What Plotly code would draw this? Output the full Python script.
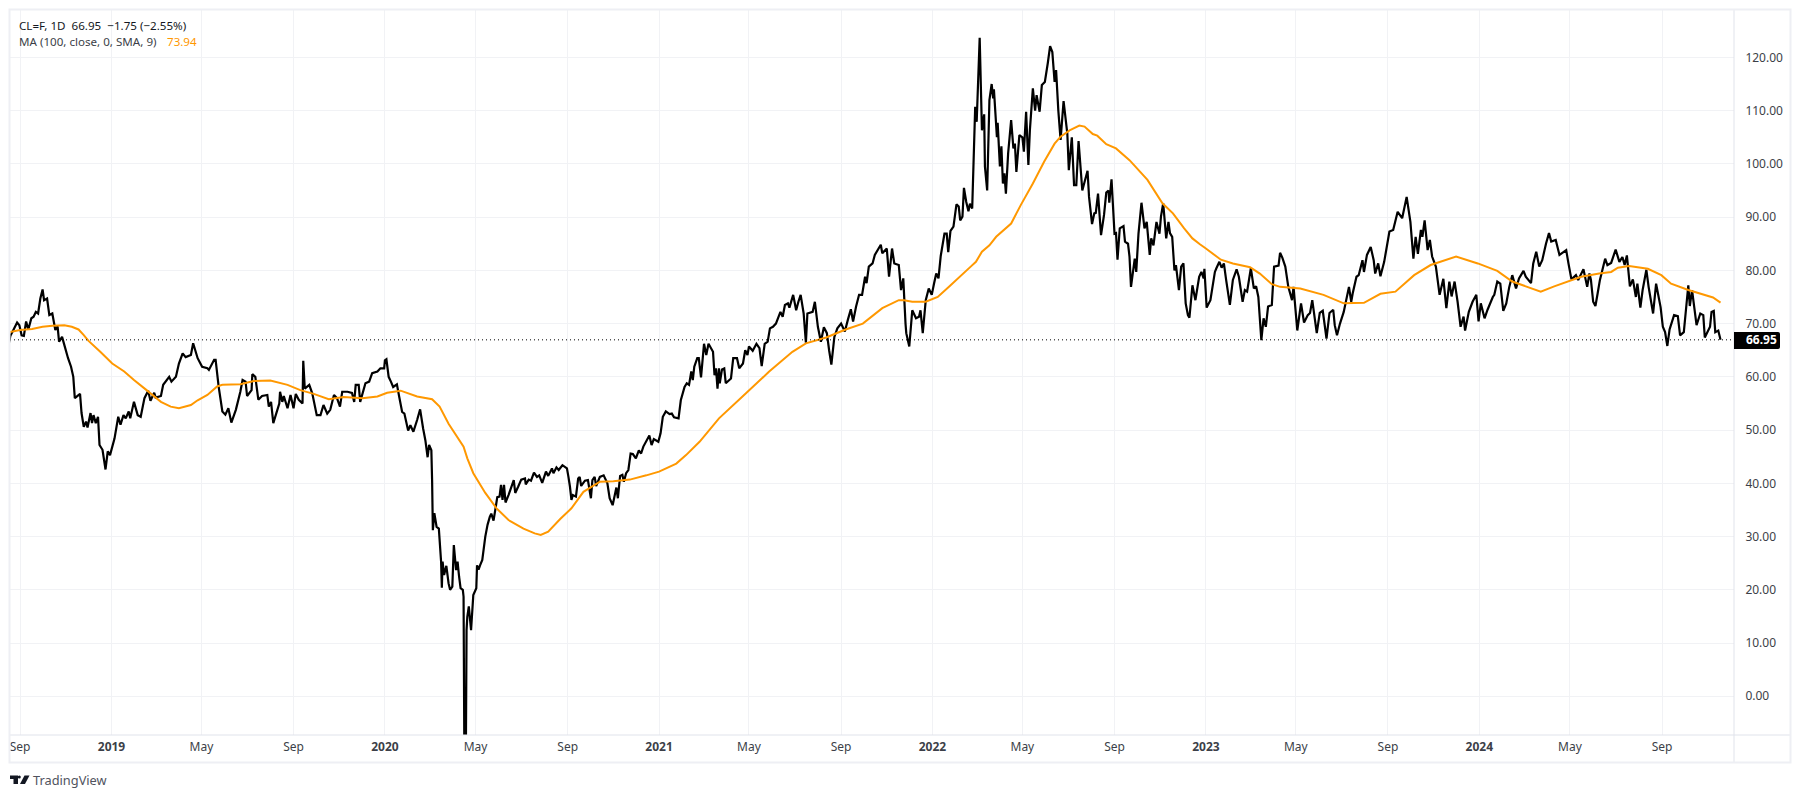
import pandas as pd
import plotly.graph_objects as go

# Closing prices: day-of-year offsets and values, per year
close_days_2018 = [228,230,234,239,242,245,248,251,254,258,261,264,267,270,273,275,279,282,286,290,293,295,299,302,307,311,314,316,323,325,328,331,333,337,339,341,344,347,349,353,357,360,363]
close_vals_2018 = [66.3,67.7,68.8,70.2,69.7,67.8,67.7,70.4,68.9,71,71.3,72.2,71.9,74.7,76.4,74.4,74.7,71.6,71.9,68.8,69.5,66.6,67.5,66,63.5,61.9,60,56,56.8,53.2,50.6,51.6,50.5,53.2,51.3,52.8,51.3,52.5,47.2,46.3,42.6,46,45.3]
close_days_2019 = [4,9,12,16,19,23,25,30,35,39,44,49,52,57,59,66,69,77,80,86,90,95,99,106,109,115,121,128,130,137,139,143,148,152,156,160,166,172,175,179,181,187,188,192,196,201,208,210,213,216,224,225,228,230,235,239,243,246,250,255,256,258,264,268,274,279,283,288,292,297,301,305,308,315,321,324,326,330,332,339,344,348,355,359,364]
close_vals_2019 = [48.4,52.5,51,52.8,52.2,53.5,52.2,55.3,52.8,52.5,56,57.4,55.5,57,56.1,56.4,58.5,60,59.1,60,62.5,64.4,63.7,64.1,66.3,63.5,61.9,61.6,61.3,63.2,63.2,58.2,53.5,52.9,54.1,51.4,53.8,57.2,59.4,59.1,56.4,57.5,60.5,60,55.7,56.4,56.6,54.4,55.3,51.3,55,57.2,55.3,56.4,54.1,56.6,54.1,56.8,55.7,55,63,57.8,58.5,56.9,52.8,52.8,54.7,53.1,53.8,56.6,56,54.4,57.2,57.2,57,55.3,58.5,58.5,55.3,58.8,59.1,60.7,61,61.6,61.6]
close_days_2020 = [0,2,5,8,11,16,19,23,26,31,34,38,43,47,51,54,57,59,62,63,64,66,69,72,75,76,77,79,82,85,87,90,92,95,97,99,101,104,105,107,109,110,112,115,118,122,123,125,127,130,134,137,140,142,145,148,150,153,155,157,159,161,165,172,174,178,182,187,188,192,195,199,203,206,210,215,218,223,225,229,232,237,243,245,247,249,251,255,258,260,262,267,271,275,277,280,282,287,292,297,300,304,309,311,314,317,319,322,325,328,331,335,339,342,345,353,356,359,365]
close_vals_2020 = [63.1,63.3,60,59.1,58.1,58.6,56.3,53.4,53.1,49.9,50.9,49.7,51.9,53.9,50.3,48.1,44.9,47.2,46.2,40.6,31.2,34.4,31.8,31.5,25.3,20.4,25.3,22.8,24.5,21.2,20,20.6,28.4,23.7,25.3,22.5,20.3,20,18.7,-37.63,12.4,14.9,16.9,12.4,19,20.3,24.6,23.8,24.6,25.6,30,32.2,33.7,34.3,33,35.6,37.4,37.5,39.7,36.9,39.7,36.4,37.8,40.6,38.2,39.4,40.7,40.9,39.8,40.7,40.5,42,41.2,41.5,40.1,42.2,41.4,42.8,41.9,43,42.5,43.4,42.8,41.2,39.4,36.9,37.8,37.5,40.9,41.2,39.5,40.5,40.6,37.2,40.6,41.2,39.5,41.2,41.5,40,37.2,35.9,39.2,37.2,41.4,41.6,40.3,41.9,42.5,45.6,45.5,44.7,46.2,45.6,46.9,49,47.2,48.3,47.8]
close_days_2021 = [2,5,9,14,17,20,26,29,34,37,40,43,45,47,51,53,56,60,63,66,72,74,76,78,80,81,84,87,89,96,99,104,107,112,115,118,120,125,130,134,137,141,145,148,152,156,162,165,168,172,174,179,183,186,189,193,196,198,205,208,212,216,220,224,227,230,234,238,243,248,252,256,259,263,267,271,275,277,280,285,288,296,298,304,307,311,314,320,323,326,329,330,334,338,343,347,349,352,356,360,364]
close_vals_2021 = [49.4,52.5,53.5,53,53.1,52.4,52.2,55.6,58.1,58.8,58.5,61,59.4,61.9,63.5,63.5,59.9,66.2,64.1,66.2,64.7,60.3,61.6,57.8,61.6,58.8,61.4,61.6,58.8,59.7,63.5,63.5,61.6,62.5,65,64.1,65.7,64.9,66.2,65.4,62,66.2,66.6,69.1,69.4,70,72.2,71.3,73.5,73.8,73,75.4,72.5,74.1,75.4,71.9,66.4,71.9,72.2,74.1,69.4,66.6,69.3,68.2,65,62.3,67.5,69.1,70,68.5,70.7,72.7,70.4,73.2,75.4,75.4,78.8,77.6,80.7,81.3,82.9,84.8,83.2,84.1,78.8,84.1,81.3,81,76.3,78.5,70,68.2,65.7,72.5,71,71.3,72.5,68.2,74.4,76.6,75.4]
close_days_2022 = [2,5,8,11,16,19,21,24,28,32,35,37,40,42,45,48,50,53,57,59,63,66,69,70,73,76,79,81,82,86,87,90,92,94,96,98,101,105,108,110,112,116,120,122,125,128,130,134,137,139,143,146,150,154,157,160,163,165,168,171,175,180,182,186,189,192,195,200,203,207,209,213,216,218,221,225,229,232,235,236,239,243,245,247,250,255,257,261,263,265,270,272,275,279,283,286,290,292,295,299,303,305,308,312,315,317,320,323,325,329,332,335,338,341,343,347,351,356,359,362,363]
close_vals_2022 = [77.5,79.4,78.5,82.7,86.9,86.9,83.4,87.4,88.2,92.4,92,89.4,90.1,95.5,92.9,91.1,92.5,91.6,110.7,107.9,123.7,106.3,109.3,99.5,95,112,115,112.3,114,105,107.7,99.5,103.3,96.3,98.2,94.4,102,108.2,102.9,103.8,98.5,105.4,105,102.3,109.8,99.8,106.3,114.2,110,112.9,109.8,114.8,115.4,119,122.1,121,115.4,117.6,110,104.5,111.8,105.7,98.8,105,96,96,104.3,95,96.6,98.7,93.8,88.7,90.7,90.8,94.4,86.6,90.4,94.6,95,92.7,97.1,86.9,87,82,87.9,88.3,85.4,85,82.6,76.9,82.2,79.7,86.9,92.7,87.9,89.1,82.9,86,84.7,89.1,86.9,90.1,92.6,86,89.1,87,86.3,80,81,76.3,80.7,81.3,73.8,71.6,71.1,77.2,74.4,78.8,79.7,78.5,80.3]
close_days_2023 = [1,6,12,14,18,21,24,27,32,36,41,44,49,52,55,60,64,67,70,74,77,80,83,88,91,97,99,102,106,110,115,117,122,127,131,136,139,142,148,152,156,161,165,170,172,175,179,184,191,194,196,201,204,209,211,215,220,224,226,230,233,238,245,250,256,262,268,273,277,280,283,287,289,292,296,299,302,307,312,317,321,325,328,332,336,340,344,346,351,356,361,364]
close_vals_2023 = [73,74.4,79.7,80.4,81.6,80.5,81.3,78.2,73.5,78.2,80.2,78.8,74.1,76.3,76,80.4,76.6,77,75,66.9,71,69.4,73.2,73.5,80.7,80.9,83.3,82.4,80.7,76.9,74.4,76.9,68.7,73.8,70.2,71.6,72,74.4,68.2,72,72.4,67.2,72,72.6,69.7,67.8,70,72.2,76.9,74.1,75.7,78.8,79.1,81.9,79.7,82.9,84.4,81.9,79.4,81.3,78.9,81.6,87.3,87.6,91,89.8,93.8,89.1,82.2,86.3,83.1,87.6,86.3,89.4,83.8,85.7,82.6,80.7,75.4,78.4,72.9,77.9,75.1,77.9,74.1,69.4,71.3,68.7,72.2,74.1,75.4,70.4]
close_days_2024 = [2,7,11,18,20,24,28,32,36,40,44,49,53,59,62,69,72,76,80,84,89,93,96,102,107,116,119,123,129,132,139,144,147,149,152,155,158,161,168,171,176,182,187,191,194,197,201,205,209,211,215,218,223,226,232,236,242,245,248,251,254,260,265,268,273,279,281,284,290,295,299,301,308,310,313,315,319,322]
close_vals_2024 = [73.8,71,72.6,75,75.4,77.9,77.5,72.4,73.8,76.9,79.1,76.6,78.5,79.9,78.8,77.6,81.3,83.5,80.7,81.9,85,87,85.4,85.7,82.9,83.8,81.3,78.3,79.1,78.2,80.2,76.9,79.4,78.2,74.1,73.3,75.7,78.2,82.2,81,81.4,83.9,81.6,82.5,81,82.8,77,78.3,75,77.5,73,76.3,80.1,76.9,71.9,77.5,73.1,69.4,68.4,65.8,68.9,71.6,71.4,67.8,68.4,77.2,73.3,76.3,69.7,71.9,71.6,67.4,69.4,72.2,72.4,68.4,68.7,66.95]

# 100-day simple moving average, per year
ma_days_2018 = [228,243,259,273,286,302,312,321,328,334,350]
ma_vals_2018 = [68.4,68.8,69,69.4,69.6,69.7,69.4,68.9,67.85,66.8,64.7]
ma_days_2019 = [1,17,30,46,66,79,90,106,115,128,141,148,172,190,212,235,252,270,290,310,335,355]
ma_vals_2019 = [62.5,61,59.4,57.6,55.3,54.4,54.1,54.7,55.6,56.6,58.2,58.5,58.6,59.2,59.3,58.5,57.5,56.8,55.8,56.2,56,56.3]
ma_days_2020 = [3,21,43,63,73,85,105,110,118,134,149,165,185,200,208,218,234,249,265,287,305,327,349]
ma_vals_2020 = [57,57.4,56.3,55.8,54.4,51.2,46.9,44.7,41.9,38.2,35.3,33.1,31.5,30.6,30.3,30.9,33.3,35.3,38.4,40.3,40.4,40.7,41.5]
ma_days_2021 = [0,23,36,54,80,116,147,178,196,223,249,272,298,320,327,338,356]
ma_vals_2021 = [42.2,43.7,45.3,47.8,52.2,56.9,61,64.7,66.3,67.4,68.9,70,72.9,74.4,74.4,74.1,74.1]
ma_days_2022 = [7,22,51,58,66,76,85,105,118,134,149,163,171,183,196,203,214,220,232,245,263,287,307,321,336,347,357]
ma_vals_2022 = [75,76.9,80.7,81.6,83.5,84.7,86.3,88.8,92.3,96.3,100.4,103.8,105.1,106.3,107.2,107,105.6,105.3,103.7,102.9,100.7,97,92.6,90.7,87.9,86,84.9]
ma_days_2023 = [0,20,36,59,72,88,99,126,157,184,211,233,253,278,300,334,363]
ma_vals_2023 = [84.1,82,81.3,80.6,79.4,77.4,76.9,76.6,75.4,73.8,73.9,75.6,76,79.1,81,82.6,81.3]
ma_days_2024 = [24,44,82,100,136,160,176,185,200,225,243,256,279,312,322]
ma_vals_2024 = [79.9,77.9,76,77,78.8,79.4,79.7,80.5,80.8,80.3,79.1,77.5,76.3,74.9,73.94]

price_ticks = [0,10,20,30,40,50,60,70,80,90,100,110,120]
time_ticks = ["2018-09-01","2019-01-01","2019-05-01","2019-09-01","2020-01-01","2020-05-01","2020-09-01","2021-01-01","2021-05-01","2021-09-01","2022-01-01","2022-05-01","2022-09-01","2023-01-01","2023-05-01","2023-09-01","2024-01-01","2024-05-01","2024-09-01"]
time_labels = ["Sep","2019","May","Sep","2020","May","Sep","2021","May","Sep","2022","May","Sep","2023","May","Sep","2024","May","Sep"]
last_close = 66.95
symbol_text = "CL=F, 1D  66.95  −1.75 (−2.55%)"
ma_text = "MA (100, close, 0, SMA, 9)"
ma_last = "73.94"


def to_dates(year, days):
    return [pd.Timestamp(year, 1, 1) + pd.Timedelta(days=d) for d in days]


close_x, close_y, ma_x, ma_y = [], [], [], []
for yr, d, v in [(2018, close_days_2018, close_vals_2018), (2019, close_days_2019, close_vals_2019),
                 (2020, close_days_2020, close_vals_2020), (2021, close_days_2021, close_vals_2021),
                 (2022, close_days_2022, close_vals_2022), (2023, close_days_2023, close_vals_2023),
                 (2024, close_days_2024, close_vals_2024)]:
    close_x += to_dates(yr, d)
    close_y += v
for yr, d, v in [(2018, ma_days_2018, ma_vals_2018), (2019, ma_days_2019, ma_vals_2019),
                 (2020, ma_days_2020, ma_vals_2020), (2021, ma_days_2021, ma_vals_2021),
                 (2022, ma_days_2022, ma_vals_2022), (2023, ma_days_2023, ma_vals_2023),
                 (2024, ma_days_2024, ma_vals_2024)]:
    ma_x += to_dates(yr, d)
    ma_y += v

W, H = 1800, 798
L, R, T, B = 10, 1734, 10, 735
FONT = "Noto Sans"
GRID = "#f1f2f5"
FRAME = "#eeeff4"
AXIS = "#e0e3eb"
TEXT = "#131722"


def px(x):
    return (x - L) / (R - L)


def py(y):
    return (B - y) / (B - T)


fig = go.Figure()
fig.add_trace(go.Scatter(x=close_x, y=close_y, mode="lines", line=dict(color="#000000", width=2.2, simplify=False), hoverinfo="skip", showlegend=False))
fig.add_trace(go.Scatter(x=ma_x, y=ma_y, mode="lines", line=dict(color="#ff9800", width=2, simplify=False), hoverinfo="skip", showlegend=False))

shapes = [
    dict(type="line", xref="paper", yref="y", x0=0, x1=1, y0=last_close, y1=last_close, line=dict(color="#000000", width=1, dash="1px,3px"), layer="above"),
    dict(type="line", xref="paper", yref="paper", x0=px(R), x1=px(R), y0=py(T), y1=py(762), line=dict(color=AXIS, width=1)),
    dict(type="line", xref="paper", yref="paper", x0=px(L), x1=px(1790), y0=py(B), y1=py(B), line=dict(color=AXIS, width=1)),
    dict(type="rect", xref="paper", yref="paper", x0=px(9.5), x1=px(1790.5), y0=py(9.5), y1=py(762.5), line=dict(color=FRAME, width=2)),
    dict(type="path", xref="paper", yref="paper", fillcolor="#000000", line=dict(width=0), layer="above",
         path=f"M{px(R)},{py(332)} L{px(1778)},{py(332)} Q{px(1780)},{py(332)} {px(1780)},{py(334)} L{px(1780)},{py(347)} Q{px(1780)},{py(349)} {px(1778)},{py(349)} L{px(R)},{py(349)} Z"),
    # TradingView mark
    dict(type="path", xref="paper", yref="paper", fillcolor="#131722", line=dict(width=0),
         path=f"M{px(10)},{py(775.5)} L{px(18)},{py(775.5)} L{px(18)},{py(784)} L{px(13.5)},{py(784)} L{px(13.5)},{py(779)} L{px(10)},{py(779)} Z"),
    dict(type="circle", xref="paper", yref="paper", fillcolor="#131722", line=dict(width=0), x0=px(17.8), x1=px(20.8), y0=py(775.5), y1=py(778.5)),
    dict(type="path", xref="paper", yref="paper", fillcolor="#131722", line=dict(width=0),
         path=f"M{px(24.5)},{py(775.5)} L{px(29.5)},{py(775.5)} L{px(25)},{py(784)} L{px(20)},{py(784)} Z"),
]

annotations = [
    dict(xref="paper", yref="paper", x=px(17), y=py(25), xanchor="left", yanchor="middle", showarrow=False, text=symbol_text, font=dict(family=FONT, size=11.6, color=TEXT)),
    dict(xref="paper", yref="paper", x=px(17), y=py(41.5), xanchor="left", yanchor="middle", showarrow=False, text=ma_text, font=dict(family=FONT, size=11.6, color="#3c3f48")),
    dict(xref="paper", yref="paper", x=px(165), y=py(41.5), xanchor="left", yanchor="middle", showarrow=False, text=ma_last, font=dict(family=FONT, size=11.6, color="#ff9800")),
    dict(xref="paper", yref="y", x=px(1743.5), y=last_close, xanchor="left", yanchor="middle", showarrow=False, text=f"<b>{last_close:.2f}</b>", font=dict(family=FONT, size=12, color="#ffffff")),
    dict(xref="paper", yref="paper", x=px(31), y=py(780), xanchor="left", yanchor="middle", showarrow=False, text="TradingView", font=dict(family=FONT, size=12.8, color="#50535e")),
]

tick_text = [f"<b>{t}</b>" if t.isdigit() else t for t in time_labels]

fig.update_layout(
    width=W, height=H, margin=dict(l=L, r=W - R, t=T, b=H - B),
    paper_bgcolor="#ffffff", plot_bgcolor="#ffffff",
    shapes=shapes, annotations=annotations, showlegend=False,
    xaxis=dict(type="date", range=["2018-08-18 12:00", "2024-12-06"], tickmode="array", tickvals=time_ticks, ticktext=tick_text,
               showgrid=True, gridcolor=GRID, gridwidth=1, zeroline=False, showline=False, ticks="outside", ticklen=1, tickcolor="rgba(0,0,0,0)",
               tickangle=0, tickfont=dict(family=FONT, size=12, color="#3c3f48")),
    yaxis=dict(side="right", range=[-7.27, 128.9], tickmode="array", tickvals=price_ticks, ticktext=[f"{v:.2f}" for v in price_ticks],
               showgrid=True, gridcolor=GRID, gridwidth=1, zeroline=False, showline=False, ticks="outside", ticklen=8, tickcolor="rgba(0,0,0,0)",
               tickfont=dict(family=FONT, size=12, color="#3c3f48")),
)

fig.write_html("out.html", config=dict(displayModeBar=False), post_script="document.body.style.margin='0';document.body.style.overflow='hidden';")
